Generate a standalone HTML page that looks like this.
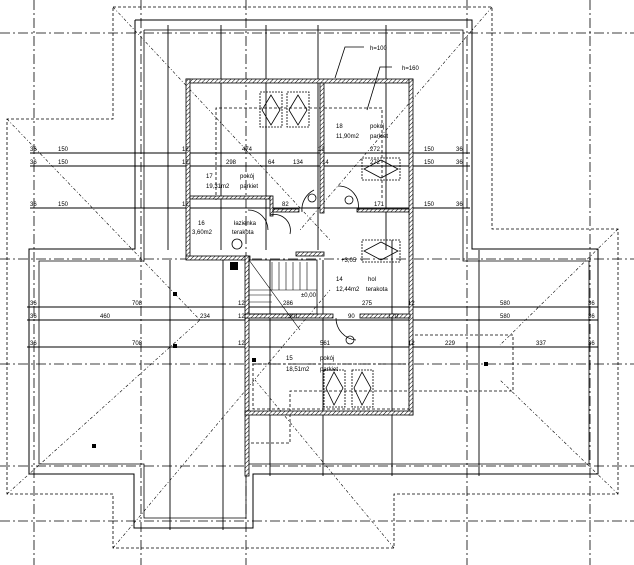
<!DOCTYPE html>
<html><head><meta charset="utf-8"><style>
html,body{margin:0;padding:0;background:#fff;}
svg{display:block}
text{font-family:"Liberation Sans",sans-serif;font-size:6px;fill:#000}
</style></head><body>
<svg width="634" height="565" viewBox="0 0 634 565" xmlns="http://www.w3.org/2000/svg">
<defs>
<pattern id="h" width="3" height="3" patternUnits="userSpaceOnUse" patternTransform="rotate(45)">
<rect width="3" height="3" fill="#fff"/><line x1="0" y1="0" x2="0" y2="3" stroke="#000" stroke-width="1"/></pattern>
</defs>
<g fill="none" stroke="#000" stroke-width="0.8">
<g stroke-dasharray="10,3,2,3" stroke-width="0.8">
<line x1="0" y1="33" x2="634" y2="33"/>
<line x1="0" y1="259" x2="634" y2="259"/>
<line x1="0" y1="364" x2="634" y2="364"/>
<line x1="0" y1="466" x2="634" y2="466"/>
<line x1="0" y1="521" x2="634" y2="521"/>
<line x1="34" y1="0" x2="34" y2="565"/>
<line x1="141" y1="0" x2="141" y2="565"/>
<line x1="246" y1="0" x2="246" y2="565"/>
<line x1="467" y1="0" x2="467" y2="565"/>
<line x1="590" y1="0" x2="590" y2="565"/>
</g>
<polyline stroke-dasharray="3,2" points="113,7 492,7 492,229 618,229 618,494 394,494 394,548 113,548 113,494 7,494 7,119 113,119 113,7"/>
<polyline stroke-width="1" points="135,20 472,20 472,249 598,249 598,474 253,474 253,528 134,528 134,474 29,474 29,249 135,249 135,20"/>
<polyline points="144,30 463,30 463,261 589,261 589,464 246,464 246,518 144,518 144,464 39,464 39,261 144,261 144,30"/>
<g stroke-dasharray="3,2,1,2" stroke-width="0.6">
<line x1="113" y1="7" x2="330" y2="240"/><line x1="492" y1="7" x2="300" y2="230"/>
<line x1="7" y1="119" x2="200" y2="320"/><line x1="7" y1="494" x2="200" y2="320"/>
<line x1="618" y1="229" x2="500" y2="345"/><line x1="618" y1="494" x2="500" y2="380"/>
<line x1="113" y1="548" x2="330" y2="290"/><line x1="394" y1="548" x2="255" y2="380"/>
</g>
<g stroke-width="0.9">
<line x1="30" y1="153" x2="470" y2="153"/>
<line x1="30" y1="166" x2="470" y2="166"/>
<line x1="30" y1="208" x2="470" y2="208"/>
<line x1="27" y1="307" x2="598" y2="307"/>
<line x1="27" y1="320" x2="598" y2="320"/>
<line x1="27" y1="347" x2="598" y2="347"/>
</g>
<g stroke-width="0.9">
<line x1="168" y1="25" x2="168" y2="250"/>
<line x1="221" y1="25" x2="221" y2="250"/>
<line x1="266" y1="25" x2="266" y2="250"/>
<line x1="318" y1="25" x2="318" y2="250"/>
<line x1="386" y1="25" x2="386" y2="250"/>
<line x1="170" y1="260" x2="170" y2="530"/>
<line x1="223" y1="260" x2="223" y2="530"/>
<line x1="270" y1="260" x2="270" y2="476"/>
<line x1="323" y1="260" x2="323" y2="476"/>
<line x1="392" y1="240" x2="392" y2="476"/>
<line x1="479" y1="250" x2="479" y2="476"/>
</g>
<g stroke-dasharray="3,2" stroke-width="0.8">
<polyline points="216,200 216,108 382,108 382,200"/>
<rect x="253" y="364" width="156" height="45"/>
<polyline points="410,335 513,335 513,391 290,391 290,443 250,443"/>
</g>
</g>
<g fill="url(#h)" stroke="#000" stroke-width="0.8">
<rect x="186" y="79" width="227" height="4"/>
<rect x="186" y="79" width="4" height="180"/>
<rect x="409" y="79" width="4" height="336"/>
<rect x="320" y="83" width="4" height="130"/>
<rect x="186" y="256" width="64" height="4"/>
<rect x="245" y="256" width="4" height="220"/>
<rect x="190" y="196" width="82" height="3"/>
<rect x="270" y="196" width="3" height="20"/>
<rect x="273" y="209" width="26" height="3"/>
<rect x="357" y="209" width="52" height="3"/>
<rect x="245" y="314" width="88" height="4"/>
<rect x="360" y="314" width="50" height="4"/>
<rect x="245" y="411" width="168" height="4"/>
<rect x="296" y="252" width="28" height="4"/>
</g>
<g fill="none" stroke="#000" stroke-width="0.8">
<g stroke-dasharray="2,1"><rect x="260" y="92" width="22" height="35"/><rect x="287" y="92" width="22" height="35"/>
<rect x="362" y="158" width="38" height="22"/><rect x="362" y="240" width="38" height="22"/>
<rect x="324" y="370" width="21" height="37"/><rect x="352" y="370" width="21" height="37"/></g>
<path d="M271,95 L262,110 L271,125 L280,110Z M298,95 L289,110 L298,125 L307,110Z M381,160 L364,169 L381,178 L398,169Z M381,242 L364,251 L381,260 L398,251Z M334,372 L326,388 L334,405 L343,388Z M362,372 L354,388 L362,405 L371,388Z"/>
<rect x="249" y="260" width="68" height="54"/>
<g stroke-width="0.6"><line x1="272" y1="262" x2="272" y2="290"/><line x1="279" y1="262" x2="279" y2="290"/><line x1="286" y1="262" x2="286" y2="290"/><line x1="293" y1="262" x2="293" y2="290"/><line x1="300" y1="262" x2="300" y2="290"/><line x1="307" y1="262" x2="307" y2="290"/>
<line x1="249" y1="295" x2="272" y2="295"/><line x1="249" y1="302" x2="272" y2="302"/><line x1="249" y1="290" x2="317" y2="290"/><line x1="249" y1="260" x2="300" y2="330"/></g>
<path d="M302,212 A22,22 0 0 1 314,190 M338,186 A20,20 0 0 1 358,210 M270,215 A16,16 0 0 1 290,234 M336,318 A22,22 0 0 0 356,340 M248,210 A20,20 0 0 1 268,230"/>
<circle cx="237" cy="244" r="5"/><circle cx="350" cy="340" r="4"/><circle cx="312" cy="198" r="4"/><circle cx="349" cy="200" r="4"/>
<polyline points="364,47 345,47 335,78"/><polyline points="392,67 380,67 367,110"/>
</g>
<rect x="230" y="262" width="8" height="8" fill="#000"/>
<g fill="#000"><rect x="173" y="292" width="4" height="4"/><rect x="173" y="344" width="4" height="4"/><rect x="92" y="444" width="4" height="4"/><rect x="484" y="362" width="4" height="4"/><rect x="252" y="358" width="4" height="4"/></g>
<text x="370" y="50">h=100</text><text x="402" y="70">h=160</text>
<text x="336" y="128">18</text><text x="370" y="128">pokój</text>
<text x="336" y="138">11,90m2</text><text x="370" y="138">parkiet</text>
<text x="206" y="178">17</text><text x="240" y="178">pokój</text>
<text x="206" y="188">19,31m2</text><text x="240" y="188">parkiet</text>
<text x="198" y="225">16</text><text x="234" y="225">łazienka</text>
<text x="192" y="234">3,60m2</text><text x="232" y="234">terakota</text>
<text x="336" y="281">14</text><text x="368" y="281">hol</text>
<text x="336" y="291">12,44m2</text><text x="366" y="291">terakota</text>
<text x="286" y="360">15</text><text x="320" y="360">pokój</text>
<text x="286" y="371">18,51m2</text><text x="320" y="371">parkiet</text>
<text x="341" y="262">+3,05</text><text x="301" y="297">±0,00</text>
<g font-size="5.5">
<text x="30" y="151">36</text><text x="58" y="151">150</text><text x="182" y="151">12</text><text x="242" y="151">474</text><text x="318" y="151">12</text><text x="370" y="151">272</text><text x="424" y="151">150</text><text x="456" y="151">36</text>
<text x="30" y="164">36</text><text x="58" y="164">150</text><text x="182" y="164">12</text><text x="226" y="164">298</text><text x="268" y="164">64</text><text x="293" y="164">134</text><text x="322" y="164">14</text><text x="370" y="164">272</text><text x="424" y="164">150</text><text x="456" y="164">36</text>
<text x="30" y="206">36</text><text x="58" y="206">150</text><text x="182" y="206">12</text><text x="282" y="206">82</text><text x="374" y="206">171</text><text x="424" y="206">150</text><text x="456" y="206">36</text>
<text x="30" y="305">36</text><text x="132" y="305">708</text><text x="238" y="305">12</text><text x="283" y="305">286</text><text x="362" y="305">275</text><text x="408" y="305">12</text><text x="500" y="305">580</text><text x="588" y="305">36</text>
<text x="30" y="318">36</text><text x="100" y="318">460</text><text x="200" y="318">234</text><text x="238" y="318">12</text><text x="288" y="318">301</text><text x="348" y="318">90</text><text x="388" y="318">170</text><text x="500" y="318">580</text><text x="588" y="318">36</text>
<text x="30" y="345">36</text><text x="132" y="345">708</text><text x="238" y="345">12</text><text x="320" y="345">561</text><text x="408" y="345">12</text><text x="445" y="345">229</text><text x="536" y="345">337</text><text x="588" y="345">36</text>
</g>
</svg>
</body></html>
